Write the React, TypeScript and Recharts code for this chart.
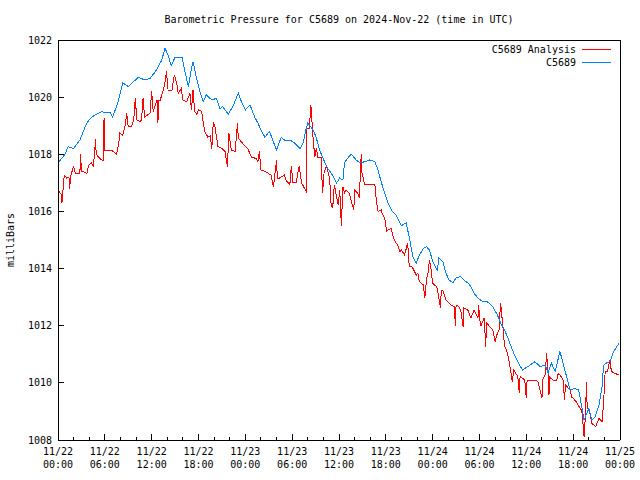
import React from 'react';
import { LineChart, Line, XAxis, YAxis, ReferenceLine } from 'recharts';

const FONT = '"DejaVu Sans Mono", "Liberation Mono", monospace';

const chartTitle = 'Barometric Pressure for C5689 on 2024-Nov-22 (time in UTC)';
const yAxisTitle = 'milliBars';
const seriesNames = ['C5689 Analysis', 'C5689'];
const seriesColors = ['#ff0000', '#0080ff'];

// hours since 2024-11-22 00:00 UTC
const redHours = [
  0.0, 0.4, 0.5, 0.6, 0.8, 1.1, 1.4, 1.5, 1.6, 2.0, 2.2, 2.8, 2.9, 3.0, 3.2, 3.7, 3.9, 4.3, 4.5, 4.7,
  4.8, 4.9, 5.2, 5.6, 5.8, 5.9, 6.0, 6.7, 7.1, 7.5, 7.8, 7.9, 8.3, 8.6, 8.8, 9.0, 9.4, 9.7, 9.9, 10.1,
  10.5, 10.7, 10.9, 11.1, 11.8, 12.0, 12.2, 12.4, 12.7, 12.8, 12.9, 13.1, 13.5, 13.7, 13.9, 14.1, 14.6, 14.9, 15.2, 15.4,
  15.8, 16.0, 16.5, 16.9, 17.1, 17.3, 17.5, 17.8, 18.0, 18.4, 18.6, 18.8, 19.2, 19.5, 19.7, 19.9, 20.1, 20.5, 21.0, 21.4,
  21.7, 21.9, 22.2, 22.7, 23.0, 23.1, 23.5, 24.0, 24.3, 24.8, 25.4, 25.6, 25.8, 26.0, 26.5, 26.9, 27.3, 27.6, 27.7, 28.0,
  28.1, 28.4, 29.0, 29.2, 29.7, 29.9, 30.1, 30.5, 30.9, 31.2, 31.6, 31.8, 31.9, 32.2, 32.4, 32.7, 32.9, 33.1, 33.3, 33.7,
  33.9, 34.1, 34.4, 34.8, 35.0, 35.2, 35.4, 35.9, 36.1, 36.3, 36.5, 36.7, 36.9, 37.3, 37.6, 37.9, 38.0, 38.4, 38.6, 38.85,
  38.95, 39.3, 40.6, 40.8, 41.0, 41.4, 41.6, 41.85, 42.1, 42.3, 42.7, 42.9, 43.1, 43.6, 43.8, 44.0, 44.4, 44.8, 45.0, 45.3,
  45.5, 45.9, 46.1, 46.3, 46.8, 47.0, 47.2, 47.4, 47.6, 47.8, 48.0, 48.5, 48.6, 49.0, 49.1, 49.3, 49.7, 49.9, 50.35, 50.8,
  50.9, 51.0, 51.2, 51.6, 51.9, 52.0, 52.5, 52.9, 53.3, 53.8, 53.9, 54.0, 54.2, 54.6, 54.8, 54.9, 55.3, 55.7, 56.0, 56.3,
  56.5, 56.7, 57.0, 57.2, 57.6, 58.0, 58.2, 58.4, 58.9, 59.1, 59.2, 59.8, 60.0, 60.1, 61.1, 61.5, 62.0, 62.1, 62.4, 62.6,
  62.8, 62.9, 63.0, 63.4, 63.9, 64.1, 64.5, 64.7, 64.9, 65.0, 65.6, 65.8, 66.0, 66.4, 66.9, 67.1, 67.4, 67.6, 67.7, 67.8,
  68.0, 68.4, 68.6, 68.9, 69.3, 69.7, 69.9, 70.1, 70.4, 70.7, 70.9, 71.3, 71.9,
];
const redValues = [
  1016.75, 1016.6, 1016.3, 1016.6, 1017.27, 1017.17, 1017.2, 1016.8, 1017.2, 1017.6, 1017.34, 1017.33, 1018.0, 1017.4, 1017.4, 1017.33, 1017.6, 1017.7, 1017.6, 1018.0,
  1018.55, 1018.0, 1017.9, 1017.8, 1017.8, 1019.27, 1018.15, 1018.15, 1018.1, 1018.0, 1018.4, 1018.74, 1018.67, 1019.0, 1019.44, 1018.97, 1018.97, 1019.2, 1019.96, 1019.2,
  1019.14, 1019.2, 1019.96, 1019.3, 1019.44, 1020.2, 1019.5, 1019.67, 1019.9, 1019.1, 1019.9, 1019.9, 1020.25, 1020.5, 1020.9, 1020.25, 1020.25, 1020.78, 1020.5, 1020.14,
  1020.3, 1019.9, 1019.84, 1020.14, 1019.55, 1020.25, 1019.5, 1019.4, 1019.55, 1019.5, 1019.14, 1018.8, 1018.6, 1018.65, 1018.2, 1019.14, 1018.97, 1018.27, 1018.2, 1018.1,
  1017.57, 1018.74, 1018.15, 1018.1, 1019.1, 1018.55, 1018.44, 1018.27, 1018.2, 1017.9, 1017.85, 1017.74, 1018.1, 1017.45, 1017.4, 1017.34, 1017.27, 1016.87, 1017.1, 1017.8,
  1017.17, 1017.17, 1017.27, 1017.1, 1016.93, 1017.6, 1017.0, 1017.0, 1017.6, 1017.0, 1016.8, 1016.7, 1018.9, 1018.9, 1019.73, 1018.5, 1017.9, 1018.2, 1017.9, 1017.9,
  1016.64, 1017.4, 1017.57, 1017.17, 1016.17, 1016.15, 1016.93, 1016.22, 1016.75, 1015.5, 1016.87, 1016.64, 1016.75, 1016.64, 1016.34, 1016.05, 1016.75, 1016.64, 1016.47, 1018.0,
  1017.34, 1016.93, 1016.93, 1016.34, 1016.0, 1016.05, 1015.88, 1015.77, 1015.3, 1015.35, 1015.4, 1015.17, 1015.0, 1014.77, 1014.6, 1014.65, 1014.47, 1014.9, 1014.07, 1014.07,
  1014.0, 1013.77, 1013.84, 1013.54, 1013.43, 1012.97, 1013.6, 1013.84, 1014.3, 1013.95, 1013.48, 1013.37, 1013.3, 1012.62, 1013.25, 1013.25, 1012.9, 1012.85, 1012.72, 1012.67,
  1012.0, 1012.72, 1012.72, 1012.55, 1011.97, 1012.62, 1012.55, 1012.27, 1012.55, 1012.27, 1012.72, 1012.27, 1012.0, 1012.27, 1011.27, 1012.1, 1011.97, 1011.85, 1011.44, 1011.75,
  1011.85, 1012.8, 1011.97, 1011.3, 1011.04, 1010.4, 1010.04, 1010.45, 1010.22, 1009.64, 1010.22, 1010.1, 1009.46, 1010.1, 1010.1, 1010.04, 1009.46, 1010.1, 1010.27, 1011.03,
  1010.27, 1009.57, 1010.2, 1010.1, 1010.1, 1010.34, 1010.2, 1010.1, 1009.4, 1009.93, 1009.75, 1009.5, 1009.46, 1009.34, 1009.1, 1009.05, 1008.12, 1009.0, 1010.04, 1009.1,
  1009.1, 1008.58, 1008.53, 1008.47, 1008.76, 1008.64, 1009.3, 1010.4, 1010.4, 1010.8, 1010.4, 1010.34, 1010.27,
];

const blueHours = [
  0.0, 0.9, 1.3, 2.0, 2.8, 3.7, 4.3, 5.6, 6.0, 6.7, 7.0, 7.7, 8.3, 9.0, 10.3, 11.1, 11.8, 12.5, 13.3, 13.7,
  14.1, 14.5, 15.0, 15.9, 16.3, 16.7, 17.1, 17.3, 17.8, 18.2, 18.6, 19.0, 19.7, 20.3, 20.75, 21.1, 21.8, 22.4, 23.1, 23.5,
  24.0, 24.6, 25.2, 25.6, 26.0, 26.5, 27.1, 27.5, 28.0, 28.6, 29.0, 29.7, 30.3, 31.0, 31.4, 31.8, 32.0, 32.7, 33.1, 33.5,
  33.9, 34.4, 35.0, 35.7, 36.1, 36.5, 36.7, 37.2, 37.6, 38.2, 38.7, 39.3, 39.9, 40.6, 41.0, 41.4, 41.85, 42.3, 42.7, 43.3,
  44.0, 44.6, 45.0, 45.5, 45.9, 46.3, 46.8, 47.2, 47.6, 48.0, 48.6, 48.8, 49.3, 49.7, 50.1, 50.6, 51.0, 51.6, 52.0, 52.5,
  52.9, 53.3, 53.8, 54.4, 55.0, 55.7, 56.3, 56.7, 57.2, 57.6, 58.0, 58.5, 58.9, 59.5, 60.2, 61.1, 61.75, 62.4, 62.8, 63.2,
  63.7, 64.3, 64.7, 65.2, 65.6, 66.2, 66.7, 67.1, 67.4, 68.0, 68.4, 68.8, 69.3, 69.7, 69.9, 70.3, 70.7, 71.2, 71.6, 71.9,
];
const blueValues = [
  1017.7, 1018.0, 1018.27, 1018.2, 1018.5, 1019.1, 1019.3, 1019.5, 1019.45, 1019.45, 1019.3, 1019.84, 1020.5, 1020.37, 1020.7, 1020.6, 1020.66, 1020.9, 1021.3, 1021.71,
  1021.48, 1021.1, 1021.4, 1021.4, 1020.85, 1020.37, 1021.0, 1021.24, 1020.6, 1020.19, 1019.84, 1020.08, 1019.9, 1019.96, 1019.6, 1019.67, 1019.4, 1019.67, 1020.14, 1019.84,
  1019.55, 1019.73, 1019.3, 1019.1, 1018.85, 1018.6, 1018.8, 1018.5, 1018.15, 1018.6, 1018.5, 1018.5, 1018.4, 1018.2, 1018.4, 1018.9, 1019.1, 1018.85, 1018.57, 1018.15,
  1017.9, 1017.57, 1017.34, 1017.0, 1017.17, 1017.1, 1017.7, 1017.9, 1018.0, 1017.8, 1017.7, 1017.74, 1017.8, 1017.74, 1017.45, 1017.04, 1016.64, 1016.29, 1016.05, 1015.88,
  1015.5, 1015.6, 1015.1, 1014.37, 1014.2, 1014.47, 1014.7, 1014.77, 1014.65, 1014.24, 1013.95, 1014.37, 1014.24, 1013.84, 1013.6, 1013.5, 1013.67, 1013.72, 1013.6, 1013.5,
  1013.37, 1013.14, 1012.97, 1012.84, 1012.84, 1012.67, 1012.37, 1012.1, 1011.85, 1011.6, 1011.3, 1010.97, 1010.74, 1010.45, 1010.57, 1010.74, 1010.57, 1010.62, 1010.34, 1010.7,
  1010.4, 1011.1, 1010.7, 1010.17, 1009.75, 1009.8, 1009.75, 1009.17, 1008.7, 1009.1, 1008.7, 1008.8, 1009.22, 1009.87, 1010.62, 1010.7, 1010.74, 1011.1, 1011.27, 1011.4,
];

const xTicks = [0, 2, 4, 6, 8, 10, 12, 14, 16, 18, 20, 22, 24, 26, 28, 30, 32, 34, 36, 38, 40, 42, 44, 46, 48, 50, 52, 54, 56, 58, 60, 62, 64, 66, 68, 70, 72];
const xDateLabels = ['11/22', '11/22', '11/22', '11/22', '11/23', '11/23', '11/23', '11/23', '11/24', '11/24', '11/24', '11/24', '11/25'];
const xTimeLabels = ['00:00', '06:00', '12:00', '18:00', '00:00', '06:00', '12:00', '18:00', '00:00', '06:00', '12:00', '18:00', '00:00'];
const yTicks = [1008, 1010, 1012, 1014, 1016, 1018, 1020, 1022];

const redData = redHours.map((h, i) => ({ h, v: redValues[i] }));
const blueData = blueHours.map((h, i) => ({ h, v: blueValues[i] }));

const textStyle = { fontFamily: FONT, fontSize: 10, fill: '#000' } as const;

const BottomTick = (props: any) => {
  const { x, y, payload } = props;
  const major = payload.value % 6 === 0;
  const idx = payload.value / 6;
  return (
    <g>
      <line x1={x} x2={x} y1={y} y2={y - (major ? 6 : 3)} stroke="#000" strokeWidth={1} shapeRendering="crispEdges" />
      {major && (
        <text x={x} y={y + 15} textAnchor="middle" style={textStyle}>{xDateLabels[idx]}</text>
      )}
      {major && (
        <text x={x} y={y + 28} textAnchor="middle" style={textStyle}>{xTimeLabels[idx]}</text>
      )}
    </g>
  );
};

const TopTick = (props: any) => {
  const { x, y, payload } = props;
  const major = payload.value % 6 === 0;
  return <line x1={x} x2={x} y1={y} y2={y + (major ? 6 : 3)} stroke="#000" strokeWidth={1} shapeRendering="crispEdges" />;
};

const LeftTick = (props: any) => {
  const { x, y, payload } = props;
  return (
    <g>
      <line x1={x} x2={x + 6} y1={y} y2={y} stroke="#000" strokeWidth={1} shapeRendering="crispEdges" />
      <text x={x - 6} y={y + 3.5} textAnchor="end" style={textStyle}>{payload.value}</text>
    </g>
  );
};

const RightTick = (props: any) => {
  const { x, y } = props;
  return <line x1={x} x2={x - 6} y1={y} y2={y} stroke="#000" strokeWidth={1} shapeRendering="crispEdges" />;
};

export default function App() {
  return (
    <div style={{ position: 'absolute', left: 0, top: 0, width: 640, height: 480, background: '#fff' }}>
      <LineChart width={640} height={480} margin={{ top: 40, right: 20, bottom: 0, left: 0 }}>
        <XAxis
          xAxisId="bottom"
          dataKey="h"
          type="number"
          domain={[0, 72]}
          ticks={xTicks}
          interval={0}
          height={40}
          tickSize={0}
          tickMargin={0}
          axisLine={false}
          tickLine={false}
          tick={<BottomTick />}
          allowDataOverflow
        />
        <XAxis
          xAxisId="top"
          orientation="top"
          dataKey="h"
          type="number"
          domain={[0, 72]}
          ticks={xTicks}
          interval={0}
          height={0}
          tickSize={0}
          tickMargin={0}
          axisLine={false}
          tickLine={false}
          tick={<TopTick />}
          allowDataOverflow
        />
        <YAxis
          yAxisId="left"
          type="number"
          domain={[1008, 1022]}
          ticks={yTicks}
          interval={0}
          width={58}
          tickSize={0}
          tickMargin={0}
          axisLine={false}
          tickLine={false}
          tick={<LeftTick />}
          allowDataOverflow
        />
        <YAxis
          yAxisId="right"
          orientation="right"
          type="number"
          domain={[1008, 1022]}
          ticks={yTicks}
          interval={0}
          width={0}
          tickSize={0}
          tickMargin={0}
          axisLine={false}
          tickLine={false}
          tick={<RightTick />}
          allowDataOverflow
        />
        <Line
          xAxisId="bottom"
          yAxisId="left"
          data={redData}
          dataKey="v"
          type="linear"
          stroke={seriesColors[0]}
          strokeWidth={1}
          shapeRendering="crispEdges"
          dot={false}
          activeDot={false}
          isAnimationActive={false}
        />
        <Line
          xAxisId="bottom"
          yAxisId="left"
          data={blueData}
          dataKey="v"
          type="linear"
          stroke={seriesColors[1]}
          strokeWidth={1}
          shapeRendering="crispEdges"
          dot={false}
          activeDot={false}
          isAnimationActive={false}
        />
        <ReferenceLine xAxisId="bottom" yAxisId="left" x={0} stroke="#000" strokeWidth={1} shapeRendering="crispEdges" />
        <ReferenceLine xAxisId="bottom" yAxisId="left" x={72} stroke="#000" strokeWidth={1} shapeRendering="crispEdges" />
        <ReferenceLine xAxisId="bottom" yAxisId="left" y={1008} stroke="#000" strokeWidth={1} shapeRendering="crispEdges" />
        <ReferenceLine xAxisId="bottom" yAxisId="left" y={1022} stroke="#000" strokeWidth={1} shapeRendering="crispEdges" />
      </LineChart>
      <svg width={640} height={480} style={{ position: 'absolute', left: 0, top: 0, pointerEvents: 'none' }}>
        <text x={339} y={23} textAnchor="middle" style={textStyle}>{chartTitle}</text>
        <text x={14} y={240} textAnchor="middle" transform="rotate(-90 14 240)" style={textStyle}>{yAxisTitle}</text>
        <text x={576} y={53} textAnchor="end" style={textStyle}>{seriesNames[0]}</text>
        <line x1={582} x2={611} y1={49.5} y2={49.5} stroke={seriesColors[0]} strokeWidth={1} />
        <text x={576} y={66} textAnchor="end" style={textStyle}>{seriesNames[1]}</text>
        <line x1={582} x2={611} y1={62.5} y2={62.5} stroke={seriesColors[1]} strokeWidth={1} />
      </svg>
    </div>
  );
}
